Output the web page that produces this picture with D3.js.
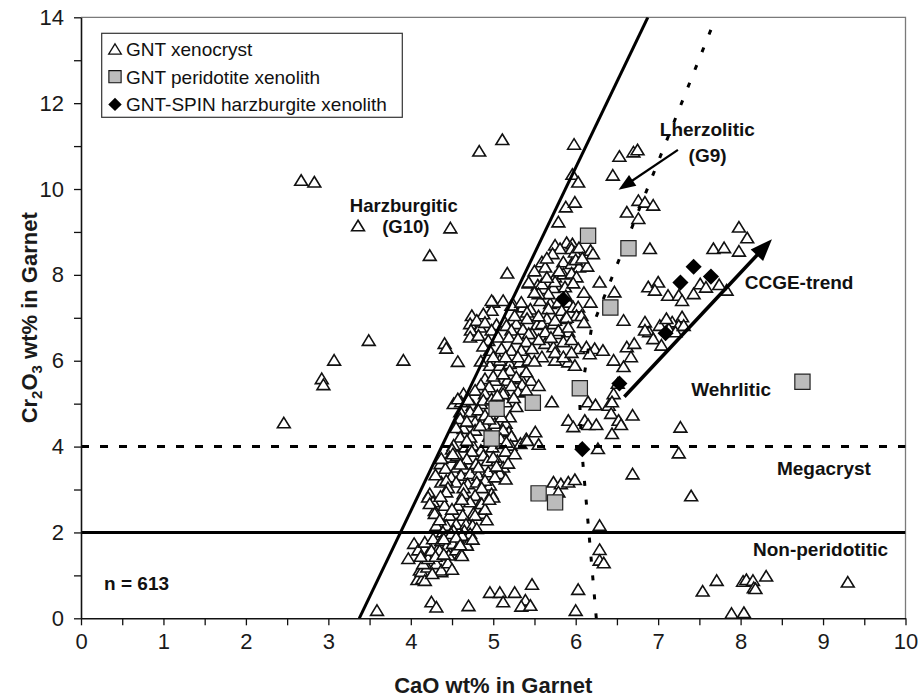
<!DOCTYPE html>
<html>
<head>
<meta charset="utf-8">
<script src="https://cdn.jsdelivr.net/npm/d3@7"></script>
<style>
body { margin: 0; background: #fff; }
svg { display: block; font-family: "Liberation Sans", Arial, sans-serif; }
</style>
</head>
<body>
<svg id="chart" width="920" height="697"></svg>
<script>
// [CaO, Cr2O3] wt%
var xenocryst = [
	// sparse / outliers
	[2.46,4.56],[2.67,10.21],[2.83,10.17],[2.92,5.59],[2.94,5.45],[3.07,6.02],[3.36,9.15],[3.49,6.48],[3.59,0.19],[3.91,6.02],
	[4.23,8.46],[4.48,9.1],[4.41,6.41],[4.43,6.3],[4.57,5.99],[4.83,10.89],[5.11,11.16],[5.17,8.05],[5.98,11.05],[5.96,10.35],
	[6.03,10.17],[5.88,9.59],[5.99,9.7],[5.79,9.24],
	// lherzolitic field
	[6.53,10.77],[6.70,10.87],[6.75,10.92],[6.45,10.33],[6.76,9.74],[6.84,9.7],[6.94,9.63],[6.62,9.47],[6.76,9.32],[6.90,8.62],
	[7.98,9.12],[8.08,8.87],[7.98,8.56],[7.67,8.62],[7.80,8.64],
	// 8.2 - 8.9
	[5.75,8.70],[5.89,8.76],[5.96,8.73],[5.81,8.62],[5.95,8.62],[5.99,8.54],[6.04,8.64],[6.18,8.58],[5.72,8.5],[5.59,8.31],
	[5.63,8.19],[5.85,8.31],[5.95,8.27],[6.04,8.19],[6.14,8.21],[6.21,8.5],[6.0,8.36],[5.65,8.4],[6.08,8.4],
	// 7.7 - 8.1
	[5.75,7.96],[5.85,8.03],[5.95,8.05],[6.01,7.96],[5.43,7.82],[5.54,7.77],[5.61,7.69],[5.73,7.71],[5.87,7.73],[5.97,7.82],
	[6.29,7.84],[6.47,7.61],[5.75,7.85],[5.59,7.80],[5.43,7.84],[5.65,7.95],[5.8,8.1],[5.5,8.1],
	// 7.1 - 7.6
	[5.57,7.41],[5.69,7.34],[5.79,7.37],[5.91,7.37],[5.97,7.26],[6.18,7.37],[5.00,7.37],[5.12,7.41],[5.24,7.33],[5.36,7.26],
	[5.45,7.21],[4.98,7.18],[4.98,7.41],[5.22,7.3],[5.34,7.37],[5.67,7.57],[5.55,7.57],[6.03,7.26],[5.67,7.22],[5.83,7.18],
	[5.41,7.14],[5.5,7.6],[5.88,7.52],[6.1,7.6],
	// 6.8 - 7.1
	[4.74,7.06],[4.88,7.1],[4.72,6.87],[4.84,6.79],[5.04,6.85],[5.14,6.91],[5.28,6.87],[5.41,6.99],[5.53,6.85],[5.65,6.99],
	[5.73,6.87],[5.87,6.99],[6.01,7.06],[5.26,7.06],[5.89,7.02],[6.07,7.06],[5.59,6.87],[5.75,6.95],[5.16,6.83],[4.8,6.95],
	[4.9,6.9],[5.55,7.05],[6.1,6.9],
	// 6.4 - 6.8
	[4.98,6.72],[5.22,6.72],[5.36,6.74],[5.47,6.64],[5.63,6.68],[5.77,6.64],[5.91,6.68],[4.73,6.72],[4.72,6.56],[4.82,6.6],
	[4.94,6.48],[5.06,6.56],[5.19,6.56],[5.3,6.52],[5.43,6.64],[5.79,6.71],[5.91,6.79],[5.63,6.41],[5.73,6.33],[5.85,6.45],
	[5.4,6.45],[5.55,6.5],[5.7,6.55],[5.95,6.5],[4.88,6.35],
	// 5.9 - 6.35
	[4.96,6.25],[5.10,6.29],[5.22,6.25],[5.34,6.25],[5.47,6.29],[4.96,5.9],[5.08,5.9],[5.2,5.94],[5.32,5.98],[5.43,6.02],
	[6.03,6.29],[6.13,6.33],[6.23,6.29],[6.33,6.25],[6.17,6.17],[5.59,6.10],[5.75,6.02],[5.91,5.98],[5.99,5.9],[5.08,6.02],
	[6.46,6.02],[6.62,6.33],[6.71,6.41],[6.67,6.10],[6.58,5.87],[4.85,6.0],[5.0,6.1],[5.15,6.1],[5.3,6.1],[5.5,6.0],
	[5.75,6.2],[5.85,6.1],[5.95,6.2],
	// right cluster along CCGE trend
	[6.58,6.95],[6.84,6.91],[6.89,6.68],[6.94,6.52],[7.04,6.37],[6.88,7.73],[7.0,7.84],[6.96,7.65],[7.12,7.53],[7.25,7.53],
	[7.29,7.41],[7.29,7.03],[7.17,6.91],[7.25,6.83],[7.13,6.75],[7.21,6.68],[7.31,6.83],[7.51,7.80],[7.58,7.72],[7.83,7.65],
	[7.74,7.78],[7.43,7.57],[7.02,6.83],[7.10,6.99],[6.84,6.72],
	// 5.4 - 5.8
	[4.90,5.59],[5.02,5.55],[5.17,5.55],[5.34,5.59],[5.46,5.55],[5.2,5.78],[5.28,5.63],[5.55,5.43],[6.46,5.24],[6.51,5.48],
	[5.0,5.65],[5.12,5.7],[5.4,5.75],[4.85,5.45],[4.95,5.4],[5.35,5.45],
	// 4.9 - 5.4
	[4.64,5.24],[4.78,5.32],[4.90,5.24],[5.12,5.32],[5.22,5.43],[5.30,5.28],[5.40,5.32],[4.52,5.01],[4.61,5.05],[4.75,4.97],
	[4.85,5.01],[5.15,5.05],[5.28,4.94],[4.88,5.09],[5.12,5.24],[4.57,5.12],[5.71,5.05],[6.15,5.05],[6.24,4.98],[6.40,4.97],
	[6.44,5.05],[5.05,4.85],[5.25,5.15],[4.98,5.12],[4.7,5.1],[5.05,5.2],
	// 4.3 - 4.9
	[4.60,4.82],[4.72,4.82],[4.82,4.86],[4.90,4.74],[4.60,4.66],[4.78,4.58],[4.64,4.43],[4.78,4.39],[4.90,4.51],[5.02,4.55],
	[5.15,4.55],[5.19,4.35],[5.20,4.70],[5.12,4.39],[4.84,4.50],[5.51,4.35],[5.91,4.62],[5.97,4.47],[6.11,4.62],[6.15,4.52],
	[6.25,4.52],[6.43,4.78],[6.52,4.62],[6.55,4.52],[6.44,4.31],[6.69,4.74],[7.27,4.46],[4.95,4.25],[5.22,4.25],[4.55,4.45],
	[4.68,4.6],[4.95,4.65],[5.1,4.7],
	// 3.9 - 4.3
	[4.60,4.23],[4.52,4.04],[4.66,4.00],[4.75,4.04],[4.85,3.92],[4.99,4.00],[5.11,4.08],[5.21,4.04],[5.33,4.08],[5.40,4.19],
	[5.09,4.19],[5.16,4.11],[4.72,4.23],[5.41,4.15],[5.55,4.06],[6.27,3.96],[7.25,3.86],[4.68,4.15],[4.5,3.95],[4.74,3.9],
	[4.88,3.8],[5.15,3.9],
	// 2.9 - 3.9
	[4.47,3.76],[4.56,3.80],[4.68,3.72],[4.79,3.61],[4.93,3.68],[5.05,3.68],[4.36,3.61],[4.42,3.50],[4.56,3.53],[4.65,3.50],
	[4.37,3.18],[4.49,3.30],[4.61,3.34],[4.72,3.38],[4.82,3.34],[4.94,3.42],[5.09,3.42],[4.55,3.18],[4.69,3.14],[4.80,3.18],
	[4.96,3.11],[5.0,3.76],[4.82,3.53],[4.90,3.22],[5.12,3.53],[5.08,3.38],[4.43,3.22],[4.37,3.73],[4.51,3.84],[6.69,3.37],
	[5.73,3.18],[5.82,3.14],[5.91,3.18],[5.99,3.24],[5.79,2.95],[7.40,2.86],[5.26,3.84],[5.18,3.62],[5.02,3.30],[4.45,3.05],
	[4.6,3.6],[4.3,3.35],[4.86,3.05],[5.04,3.55],[4.64,3.05],[5.15,3.25],
	// 2.0 - 2.9
	[4.23,2.91],[4.43,2.95],[4.64,2.91],[4.78,2.87],[4.98,2.91],[5.0,2.83],[4.84,2.68],[4.76,2.45],[4.70,2.21],[4.21,2.83],
	[4.27,2.72],[4.29,2.52],[4.31,2.17],[4.23,2.68],[4.41,2.64],[4.57,2.64],[4.72,2.72],[4.86,2.45],[4.78,2.41],[4.29,2.45],
	[4.47,2.41],[4.63,2.41],[4.43,2.17],[4.55,2.2],[4.67,2.2],[4.75,2.17],[4.86,2.68],[6.29,2.17],[4.39,2.02],[4.35,2.3],
	[4.5,2.55],[4.62,2.78],[4.9,2.55],[4.95,2.78],[4.36,2.85],[4.52,2.05],[4.65,2.05],[4.8,2.1],[4.92,2.3],
	// below 2
	[3.97,1.40],[4.04,1.75],[4.09,1.6],[4.17,1.78],[4.21,1.51],[4.11,1.13],[4.08,0.91],[4.14,0.93],[4.13,1.1],[4.2,1.2],
	[4.31,1.28],[4.37,1.09],[4.32,1.6],[4.27,1.86],[4.37,1.82],[4.43,1.67],[4.51,1.75],[4.46,1.48],[4.55,1.6],[4.61,1.51],
	[4.67,1.75],[4.72,1.98],[4.62,1.94],[4.49,1.98],[4.40,1.86],[4.15,1.28],[4.21,1.4],[4.17,0.89],[4.25,1.59],[4.35,1.59],
	[4.37,1.13],[4.68,1.71],[4.62,1.47],[6.29,1.61],[6.29,1.36],[6.34,1.30],[4.26,1.05],[4.45,1.3],[4.55,1.9],[4.3,1.45],
	[4.5,1.15],[4.12,1.45],[4.6,1.72],[4.75,1.85],[4.4,1.5],
	// bottom row
	[4.25,0.39],[4.31,0.27],[4.70,0.30],[4.96,0.61],[5.08,0.61],[5.12,0.39],[5.26,0.61],[5.39,0.43],[5.34,0.29],[5.45,0.31],
	[5.47,0.80],[6.03,0.68],[6.00,0.19],[7.54,0.64],[7.71,0.89],[8.03,0.87],[8.07,0.91],[8.15,0.89],[8.16,0.72],[8.18,0.70],
	[8.31,0.99],[9.30,0.85],[7.89,0.12],[8.04,0.14]
];

var peridotite = [[6.15,8.91],[6.64,8.62],[6.42,7.24],[6.05,5.36],[5.48,5.02],[5.04,4.88],[4.98,4.19],[5.55,2.91],[5.75,2.70],[8.75,5.51]];

var harzburgite = [[7.43,8.19],[7.27,7.82],[7.64,7.96],[5.85,7.43],[7.09,6.64],[6.53,5.47],[6.08,3.94]];

var g10Line = [[3.375,0],[6.875,14]];
var g9Line = [[6.25,0],[6.07,4],[6.05,5],[6.19,6.74],[7.70,14]];
var crLine2 = [[0,2],[10,2]];
var crLine4 = [[0,4],[10,4]];
var ccgeArrow = [[6.59,5.16],[8.38,8.83]];
var lherzArrow = [[7.24,10.91],[6.52,9.98]];

var xTickLabels = [0,1,2,3,4,5,6,7,8,9,10];
var yTickLabels = [0,2,4,6,8,10,12,14];

// label: [text, CaO, Cr2O3, anchor, size]
var fieldLabels = [
	["Harzburgitic", 3.26, 9.47, "start", 18.5],
	["(G10)", 3.94, 8.98, "middle", 18.5],
	["Lherzolitic", 7.02, 11.23, "start", 19],
	["(G9)", 7.60, 10.62, "middle", 19],
	["CCGE-trend", 8.05, 7.68, "start", 19],
	["Wehrlitic", 7.40, 5.19, "start", 19],
	["Megacryst", 8.44, 3.34, "start", 19],
	["Non-peridotitic", 8.15, 1.45, "start", 19],
	["n = 613", 0.28, 0.66, "start", 19]
];

var legendItems = ["GNT xenocryst", "GNT peridotite xenolith", "GNT-SPIN harzburgite xenolith"];

var svg = d3.select("#chart");

var x = d3.scaleLinear().domain([0, 10]).range([81, 905.5]),
		y = d3.scaleLinear().domain([0, 14]).range([618.3, 17.3]);

var line = d3.line()
		.x(function(d) { return x(d[0]); })
		.y(function(d) { return y(d[1]); });

svg.append("defs").append("clipPath")
		.attr("id", "plot-clip")
	.append("rect")
		.attr("x", x(0))
		.attr("y", y(14))
		.attr("width", x(10) - x(0))
		.attr("height", y(0) - y(14));

// frame top / right
svg.append("path")
	.attr("d", "M" + x(0) + "," + y(14) + "H" + x(10) + "V" + y(0))
	.attr("fill", "none")
	.attr("stroke", "#7a7a7a")
	.attr("stroke-width", 1.3);

var triangleUp = {
	draw: function(ctx, size) {
		var h = Math.sqrt(size);
		ctx.moveTo(0, -h * 0.45);
		ctx.lineTo(h * 0.55, h * 0.45);
		ctx.lineTo(-h * 0.55, h * 0.45);
		ctx.closePath();
	}
};

var plot = svg.append("g").attr("clip-path", "url(#plot-clip)");

plot.append("g")
		.attr("class", "xenocryst")
	.selectAll("path")
	.data(xenocryst)
	.join("path")
		.attr("transform", function(d) { return "translate(" + x(d[0]) + "," + y(d[1]) + ")"; })
		.attr("d", d3.symbol(triangleUp, 136))
		.attr("fill", "#fff")
		.attr("stroke", "#111")
		.attr("stroke-width", 1.6);

// boundary lines
plot.append("path").datum(g10Line)
	.attr("d", line).attr("fill", "none").attr("stroke", "#000").attr("stroke-width", 3);
plot.append("path").datum(crLine2)
	.attr("d", line).attr("fill", "none").attr("stroke", "#000").attr("stroke-width", 3);
plot.append("path").datum(crLine4)
	.attr("d", line).attr("fill", "none").attr("stroke", "#000").attr("stroke-width", 3)
	.attr("stroke-dasharray", "8,11");
plot.append("path").datum(g9Line)
	.attr("d", line).attr("fill", "none").attr("stroke", "#000").attr("stroke-width", 3)
	.attr("stroke-dasharray", "5,14");

plot.append("g")
		.attr("class", "peridotite")
	.selectAll("path")
	.data(peridotite)
	.join("path")
		.attr("transform", function(d) { return "translate(" + x(d[0]) + "," + y(d[1]) + ")"; })
		.attr("d", d3.symbol(d3.symbolSquare, 232))
		.attr("fill", "#bcbcbc")
		.attr("stroke", "#222")
		.attr("stroke-width", 1.2);

plot.append("g")
		.attr("class", "harzburgite")
	.selectAll("path")
	.data(harzburgite)
	.join("path")
		.attr("transform", function(d) { return "translate(" + x(d[0]) + "," + y(d[1]) + ") rotate(45)"; })
		.attr("d", d3.symbol(d3.symbolSquare, 130))
		.attr("fill", "#000");

function drawArrow(pts, width, headLen, headWid) {
	var x1 = x(pts[0][0]), y1 = y(pts[0][1]),
			x2 = x(pts[1][0]), y2 = y(pts[1][1]);
	var dx = x2 - x1, dy = y2 - y1,
			len = Math.sqrt(dx * dx + dy * dy),
			ux = dx / len, uy = dy / len;
	var bx = x2 - ux * headLen, by = y2 - uy * headLen;
	svg.append("line")
		.attr("x1", x1).attr("y1", y1)
		.attr("x2", bx + ux * 2).attr("y2", by + uy * 2)
		.attr("stroke", "#000")
		.attr("stroke-width", width);
	svg.append("path")
		.attr("d", "M" + x2 + "," + y2 +
			"L" + (bx - uy * headWid / 2) + "," + (by + ux * headWid / 2) +
			"L" + (bx + uy * headWid / 2) + "," + (by - ux * headWid / 2) + "Z")
		.attr("fill", "#000");
}

drawArrow(ccgeArrow, 3.6, 22, 17);
drawArrow(lherzArrow, 2.2, 17, 13);

// axes
var xAxis = d3.axisBottom(x)
		.tickValues(d3.range(0, 10.01, 0.5))
		.tickFormat(function(d) { return xTickLabels.indexOf(d) >= 0 ? d : ""; })
		.tickSizeInner(7)
		.tickSizeOuter(0)
		.tickPadding(8);

var yAxis = d3.axisLeft(y)
		.tickValues(d3.range(0, 14.01, 1))
		.tickFormat(function(d) { return yTickLabels.indexOf(d) >= 0 ? d : ""; })
		.tickSizeInner(7)
		.tickSizeOuter(0)
		.tickPadding(10);

var gx = svg.append("g")
		.attr("transform", "translate(0," + y(0) + ")")
		.call(xAxis);
var gy = svg.append("g")
		.attr("transform", "translate(" + x(0) + ",0)")
		.call(yAxis);

[gx, gy].forEach(function(g) {
	g.select(".domain").attr("stroke", "#111").attr("stroke-width", 1.6);
	g.selectAll(".tick line").attr("stroke", "#111").attr("stroke-width", 1.3);
	g.selectAll(".tick text")
		.attr("font-family", "'Liberation Sans', Arial, sans-serif")
		.attr("font-size", 22)
		.attr("fill", "#1a1a1a");
});

svg.append("text")
	.attr("x", (x(0) + x(10)) / 2)
	.attr("y", 693)
	.attr("text-anchor", "middle")
	.attr("font-size", 22)
	.attr("font-weight", "bold")
	.attr("fill", "#1a1a1a")
	.text("CaO wt% in Garnet");

var yTitle = svg.append("text")
	.attr("transform", "translate(37," + ((y(0) + y(14)) / 2) + ") rotate(-90)")
	.attr("text-anchor", "middle")
	.attr("font-size", 22)
	.attr("font-weight", "bold")
	.attr("fill", "#1a1a1a");
yTitle.append("tspan").text("Cr");
yTitle.append("tspan").attr("dy", 5).attr("font-size", 15).text("2");
yTitle.append("tspan").attr("dy", -5).text("O");
yTitle.append("tspan").attr("dy", 5).attr("font-size", 15).text("3");
yTitle.append("tspan").attr("dy", -5).text(" wt% in Garnet");

// field labels
svg.append("g")
	.selectAll("text")
	.data(fieldLabels)
	.join("text")
		.attr("x", function(d) { return x(d[1]); })
		.attr("y", function(d) { return y(d[2]); })
		.attr("text-anchor", function(d) { return d[3]; })
		.attr("font-size", function(d) { return d[4]; })
		.attr("font-weight", "bold")
		.attr("fill", "#111")
		.text(function(d) { return d[0]; });

// legend
var legend = svg.append("g").attr("class", "legend");
legend.append("rect")
	.attr("x", 101.7).attr("y", 33.3)
	.attr("width", 300.6).attr("height", 84)
	.attr("fill", "#fff")
	.attr("stroke", "#333")
	.attr("stroke-width", 1.2);

var legendRows = legend.selectAll("g")
	.data(legendItems)
	.join("g")
		.attr("transform", function(d, i) { return "translate(115," + (49 + i * 27.7) + ")"; });

legendRows.append("path")
	.attr("d", function(d, i) {
		if(i == 0) return d3.symbol(triangleUp, 132)();
		return d3.symbol(d3.symbolSquare, i == 1 ? 150 : 90)();
	})
	.attr("transform", function(d, i) { return i == 2 ? "rotate(45)" : null; })
	.attr("fill", function(d, i) { return ["#fff", "#bcbcbc", "#000"][i]; })
	.attr("stroke", function(d, i) { return i == 2 ? "none" : "#111"; })
	.attr("stroke-width", function(d, i) { return i == 0 ? 1.3 : 1.1; });

legendRows.append("text")
	.attr("x", 11)
	.attr("y", 7)
	.attr("font-size", 19)
	.attr("fill", "#111")
	.text(function(d) { return d; });
</script>
</body>
</html>
